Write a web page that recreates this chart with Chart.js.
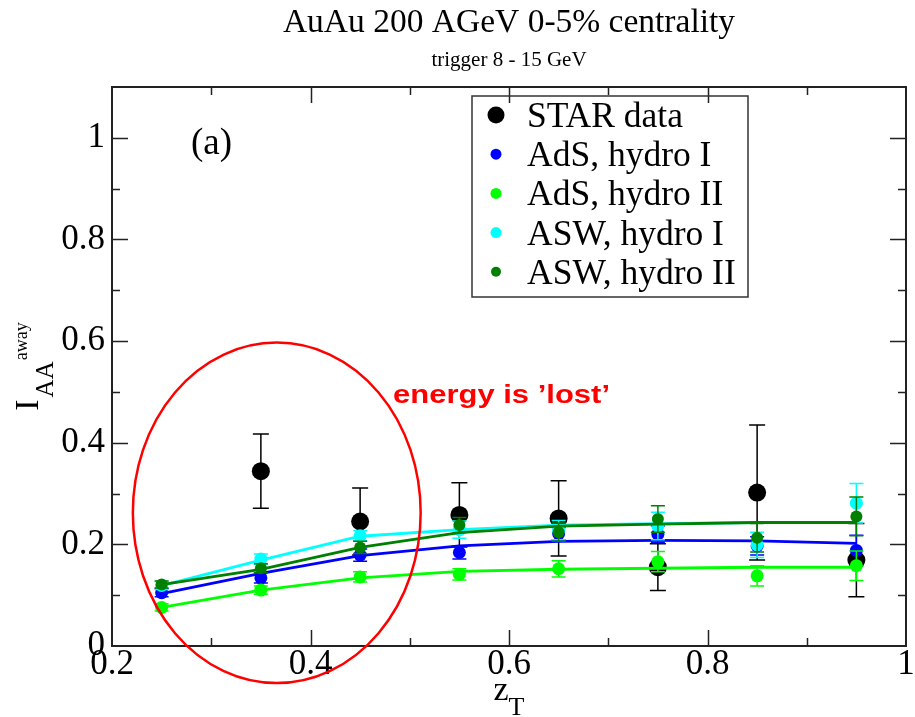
<!DOCTYPE html>
<html>
<head>
<meta charset="utf-8">
<script src="https://cdn.jsdelivr.net/npm/chart.js@4.4.0/dist/chart.umd.min.js"></script>
<style>
  body { margin: 0; background: #fff; }
</style>
</head>
<body>
<canvas id="grafico" width="915" height="717"></canvas>
<script>
// pontos em z_T
const zT = [0.25, 0.35, 0.45, 0.55, 0.65, 0.75, 0.85, 0.95];

// dados STAR
const starZ = [0.35, 0.45, 0.55, 0.65, 0.75, 0.85, 0.95];
const starIAA = [0.344, 0.245, 0.258, 0.251, 0.155, 0.302, 0.169];
const starErro = [0.073, 0.066, 0.063, 0.074, 0.046, 0.133, 0.072];

// AdS, hydro I
const adsI = [0.105, 0.134, 0.179, 0.184, 0.221, 0.220, 0.197, 0.188];
const adsIErro = [0.008, 0.010, 0.012, 0.013, 0.012, 0.016, 0.018, 0.030];
const adsICurva = [0.103, 0.143, 0.178, 0.197, 0.206, 0.208, 0.207, 0.202];

// AdS, hydro II
const adsII = [0.076, 0.110, 0.136, 0.141, 0.152, 0.166, 0.138, 0.158];
const adsIIErro = [0.007, 0.008, 0.010, 0.011, 0.016, 0.020, 0.020, 0.029];
const adsIICurva = [0.076, 0.110, 0.134, 0.147, 0.151, 0.153, 0.155, 0.155];

// ASW, hydro I
const aswI = [0.119, 0.171, 0.217, 0.229, 0.228, 0.236, 0.199, 0.281];
const aswIErro = [0.008, 0.010, 0.010, 0.017, 0.019, 0.027, 0.025, 0.039];
const aswICurva = [0.119, 0.169, 0.216, 0.229, 0.238, 0.241, 0.243, 0.243];

// ASW, hydro II
const aswII = [0.121, 0.153, 0.194, 0.238, 0.224, 0.250, 0.213, 0.255];
const aswIIErro = [0.007, 0.009, 0.012, 0.015, 0.018, 0.026, 0.028, 0.038];
const aswIICurva = [0.121, 0.151, 0.194, 0.223, 0.236, 0.240, 0.243, 0.243];

// eixos
const xTicks = [0.2, 0.4, 0.6, 0.8, 1];
const yTicks = [0, 0.2, 0.4, 0.6, 0.8, 1];

const serif = "'Liberation Serif', 'Times New Roman', serif";

const pontos = (xs, ys) => xs.map((x, i) => ({ x: x, y: ys[i] }));

const curva = (ys, cor, ordem) => ({
    data: pontos(zT, ys),
    showLine: true,
    borderColor: cor,
    borderWidth: 2.8,
    pointRadius: 0,
    order: ordem
});

const serie = (xs, ys, erros, cor, raio, ordem, corErro) => ({
    data: pontos(xs, ys),
    showLine: false,
    backgroundColor: cor,
    borderColor: cor,
    borderWidth: 0,
    pointRadius: raio,
    erros: erros,
    corErro: corErro || cor,
    order: ordem
});

// legenda: nome, cor, raio do marcador
const legenda = [
    ["STAR data", "#000000", 8.5],
    ["AdS, hydro I", "#0000ff", 5.5],
    ["AdS, hydro II", "#00ff00", 5.5],
    ["ASW, hydro I", "#00ffff", 5.5],
    ["ASW, hydro II", "#008000", 5]
];

// círculo vermelho (centro e raios em unidades dos eixos)
const circulo = { x: 0.366, y: 0.262, rx: 0.145, ry: 0.335 };

const extras = {
    id: 'extras',
    beforeDatasetDraw(chart, args) {
        const ds = chart.data.datasets[args.index];
        if (!ds.erros) return;
        const { ctx, scales: { x, y } } = chart;
        const cap = ds.corErro === "#000000" ? 8 : 7;
        ctx.save();
        ctx.strokeStyle = ds.corErro;
        ctx.lineWidth = 1.5;
        ds.data.forEach((p, i) => {
            const e = ds.erros[i];
            const px = x.getPixelForValue(p.x);
            const y1 = y.getPixelForValue(p.y + e);
            const y2 = y.getPixelForValue(p.y - e);
            ctx.beginPath();
            ctx.moveTo(px, y1); ctx.lineTo(px, y2);
            ctx.moveTo(px - cap, y1); ctx.lineTo(px + cap, y1);
            ctx.moveTo(px - cap, y2); ctx.lineTo(px + cap, y2);
            ctx.stroke();
        });
        ctx.restore();
    },
    afterDraw(chart) {
        const { ctx, chartArea: a, scales: { x, y } } = chart;
        ctx.save();

        // moldura e marcas internas nos quatro lados
        ctx.strokeStyle = "#222";
        ctx.lineWidth = 2;
        ctx.strokeRect(a.left, a.top, a.right - a.left, a.bottom - a.top);
        ctx.lineWidth = 1.5;
        ctx.beginPath();
        for (let k = 3; k <= 9; k++) {
            const px = Math.round(x.getPixelForValue(k / 10)) + 0.5;
            const t = k % 2 === 0 ? 16 : 8;
            ctx.moveTo(px, a.bottom); ctx.lineTo(px, a.bottom - t);
            ctx.moveTo(px, a.top); ctx.lineTo(px, a.top + t);
        }
        for (let k = 1; k <= 10; k++) {
            const py = Math.round(y.getPixelForValue(k / 10)) + 0.5;
            const t = k % 2 === 0 ? 16 : 8;
            ctx.moveTo(a.left, py); ctx.lineTo(a.left + t, py);
            ctx.moveTo(a.right, py); ctx.lineTo(a.right - t, py);
        }
        ctx.stroke();

        // títulos
        ctx.fillStyle = "#000";
        ctx.textAlign = "center";
        ctx.textBaseline = "alphabetic";
        const cx = (a.left + a.right) / 2;
        ctx.font = "33.5px " + serif;
        ctx.fillText("AuAu 200 AGeV 0-5% centrality", cx, 32);
        ctx.font = "21px " + serif;
        ctx.fillText("trigger 8 - 15 GeV", cx, 66);

        // (a)
        ctx.textAlign = "left";
        ctx.font = "37px " + serif;
        ctx.fillText("(a)", a.left + 79, 154);

        // eixo x: z_T
        ctx.font = "34px " + serif;
        const wz = ctx.measureText("z").width;
        ctx.font = "26px " + serif;
        const wt = ctx.measureText("T").width;
        const x0 = cx - (wz + wt) / 2;
        ctx.font = "34px " + serif;
        ctx.fillText("z", x0, 700);
        ctx.font = "26px " + serif;
        ctx.fillText("T", x0 + wz, 715);

        // eixo y: I_AA^away
        ctx.font = "34px " + serif;
        const wI = ctx.measureText("I").width + 2;
        ctx.font = "25px " + serif;
        const wAA = ctx.measureText("AA").width + 1;
        ctx.font = "18px " + serif;
        const wAway = ctx.measureText("away").width;
        const cy = (a.top + a.bottom) / 2;
        ctx.translate(38, cy + (wI + wAA + wAway) / 2);
        ctx.rotate(-Math.PI / 2);
        ctx.font = "34px " + serif;
        ctx.fillText("I", 0, 0);
        ctx.font = "25px " + serif;
        ctx.fillText("AA", wI, 15);
        ctx.font = "18px " + serif;
        ctx.fillText("away", wI + wAA, -11);
        ctx.setTransform(1, 0, 0, 1, 0, 0);

        // círculo
        const ex = x.getPixelForValue(circulo.x);
        const ey = y.getPixelForValue(circulo.y);
        const erx = x.getPixelForValue(circulo.x + circulo.rx) - ex;
        const ery = ey - y.getPixelForValue(circulo.y + circulo.ry);
        ctx.strokeStyle = "#ff0000";
        ctx.lineWidth = 2.5;
        ctx.beginPath();
        ctx.ellipse(ex, ey, erx, ery, 0, 0, Math.PI * 2);
        ctx.stroke();

        // texto vermelho
        ctx.fillStyle = "#ff0000";
        ctx.font = "bold 26px 'Liberation Sans', Arial, sans-serif";
        const msg = "energy is \u2019lost\u2019";
        const wm = ctx.measureText(msg).width;
        ctx.save();
        ctx.translate(393, 403);
        ctx.scale(217 / wm, 1);
        ctx.fillText(msg, 0, 0);
        ctx.restore();

        // legenda
        const lx = a.left + 360, ly = 96;
        ctx.strokeStyle = "#333";
        ctx.lineWidth = 1.5;
        ctx.strokeRect(lx, ly, 276, 201);
        ctx.font = "35.5px " + serif;
        ctx.textAlign = "left";
        legenda.forEach(([nome, cor, r], i) => {
            const my = ly + 19 + i * 39.2;
            ctx.fillStyle = cor;
            ctx.beginPath();
            ctx.arc(lx + 24, my, r, 0, Math.PI * 2);
            ctx.fill();
            ctx.fillStyle = "#000";
            ctx.fillText(nome, lx + 55, my + 12);
        });

        ctx.restore();
    }
};

new Chart(document.getElementById("grafico"), {
    type: "scatter",
    data: {
        datasets: [
            serie(starZ, starIAA, starErro, "#000000", 9, 11),
            curva(adsICurva, "#0000ff", 10),
            serie(zT, adsI, adsIErro, "#0000ff", 6.5, 9),
            curva(adsIICurva, "#00ff00", 8),
            serie(zT, adsII, adsIIErro, "#00ff00", 6.5, 7),
            curva(aswICurva, "#00ffff", 6),
            serie(zT, aswI, aswIErro, "#00ffff", 6.5, 5),
            curva(aswIICurva, "#008000", 4),
            serie(zT, aswII, aswIIErro, "#008000", 6, 3)
        ]
    },
    options: {
        responsive: false,
        animation: false,
        layout: { padding: { top: 87, right: 5, left: 0, bottom: 0 } },
        plugins: {
            legend: { display: false },
            title: { display: false },
            tooltip: { enabled: false }
        },
        scales: {
            x: {
                type: "linear",
                min: 0.2,
                max: 1,
                grid: { display: false, drawTicks: false },
                border: { display: false },
                ticks: {
                    padding: -2,
                    color: "#000",
                    font: { family: serif, size: 35 },
                    maxRotation: 0,
                    callback: (v) => String(v)
                },
                afterBuildTicks: (s) => { s.ticks = xTicks.map(v => ({ value: v })); },
                afterFit: (s) => { s.height = 71; s.paddingLeft = 0; s.paddingRight = 0; }
            },
            y: {
                type: "linear",
                min: 0,
                max: 1.1,
                grid: { display: false, drawTicks: false },
                border: { display: false },
                ticks: {
                    padding: 7,
                    color: "#000",
                    font: { family: serif, size: 35 },
                    callback: (v) => String(v)
                },
                afterBuildTicks: (s) => { s.ticks = yTicks.map(v => ({ value: v })); },
                afterFit: (s) => { s.width = 112; s.paddingTop = 0; s.paddingBottom = 0; }
            }
        }
    },
    plugins: [extras]
});
</script>
</body>
</html>
